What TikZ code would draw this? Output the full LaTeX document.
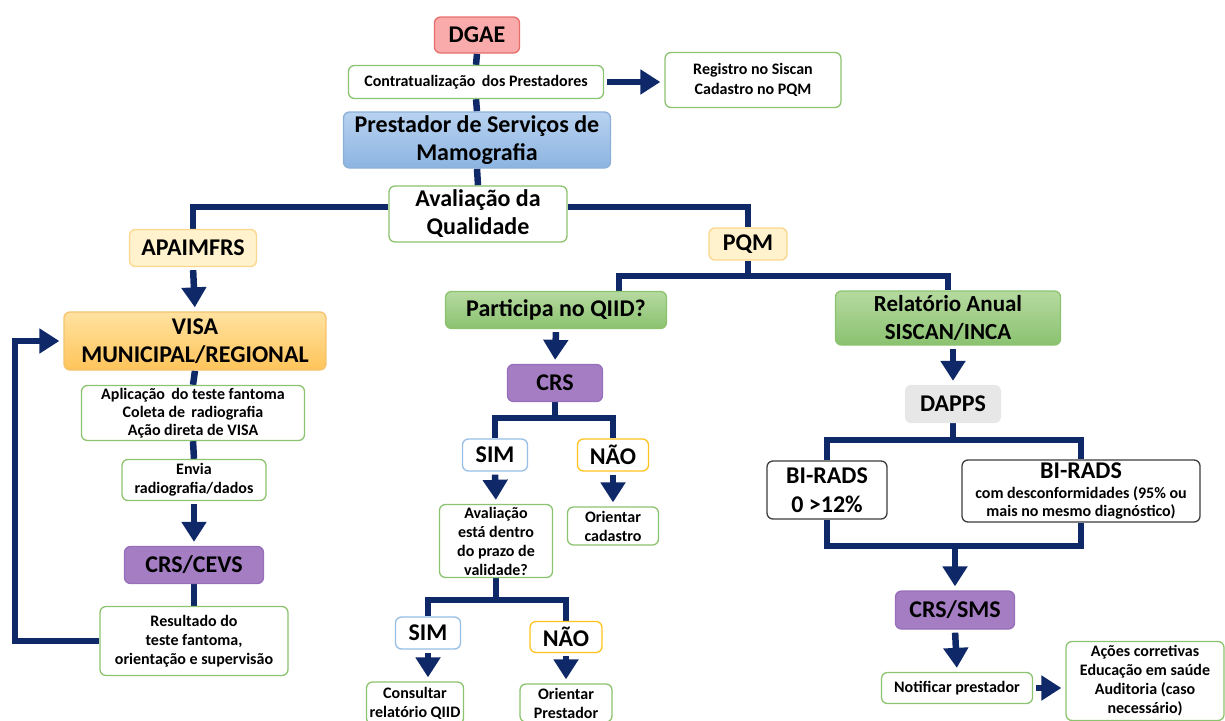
\documentclass[tikz,border=0pt]{standalone}
\usepackage{fontspec}
\setmainfont{Carlito}
\usetikzlibrary{arrows.meta,calc,backgrounds}
\definecolor{navy}{RGB}{14,40,104}
\definecolor{gborder}{RGB}{140,195,110}
\definecolor{pinkfill}{RGB}{249,170,170}
\definecolor{pinkborder}{RGB}{232,110,110}
\definecolor{bluetop}{RGB}{184,210,240}
\definecolor{bluebot}{RGB}{140,180,225}
\definecolor{blueborder}{RGB}{140,175,215}
\definecolor{yelfill}{RGB}{255,242,204}
\definecolor{yelborder}{RGB}{250,215,140}
\definecolor{orgtop}{RGB}{255,226,160}
\definecolor{orgbot}{RGB}{255,196,90}
\definecolor{orgborder}{RGB}{245,195,110}
\definecolor{purfill}{RGB}{165,125,195}
\definecolor{purborder}{RGB}{150,110,185}
\definecolor{grtop}{RGB}{182,218,160}
\definecolor{grbot}{RGB}{138,194,112}
\definecolor{grayfill}{RGB}{231,231,231}
\definecolor{simborder}{RGB}{150,190,230}
\definecolor{naoborder}{RGB}{255,195,30}
\definecolor{darkborder}{RGB}{60,60,60}
\tikzset{
  box/.style={rounded corners=6pt, draw, line width=1.3pt, align=center, inner sep=0pt, text=black},
  gbox/.style={box, draw=gborder, fill=white},
  pinkbox/.style={box, draw=pinkborder, fill=pinkfill},
  bluebox/.style={box, draw=blueborder, top color=bluetop, bottom color=bluebot},
  yelbox/.style={box, draw=yelborder, fill=yelfill},
  orgbox/.style={box, draw=orgborder, top color=orgtop, bottom color=orgbot},
  purbox/.style={box, draw=purborder, fill=purfill},
  grbox/.style={box, draw=gborder, top color=grtop, bottom color=grbot},
  graybox/.style={box, draw=grayfill, fill=grayfill},
  simbox/.style={box, draw=simborder, fill=white},
  naobox/.style={box, draw=naoborder, fill=white},
  darkbox/.style={box, draw=darkborder, fill=white},
  conn/.style={draw=navy, line width=6.5pt},
  arr/.style={conn, -{Triangle[width=24pt,length=20pt]}, shorten <=3pt, shorten >=4pt},
}
\newcommand\fsz[2]{\fontsize{#1}{#2}\selectfont\bfseries}
\begin{document}
\begin{tikzpicture}[x=1pt,y=-1pt]
\useasboundingbox (0,0) rectangle (1225,720);
% nodes
\node[pinkbox, minimum width=85, minimum height=36, font=\fsz{24}{28}] (dgae) at (477,35) {DGAE};
\node[gbox, minimum width=255, minimum height=33, font=\fsz{16}{19}] (contr) at (476,82) {Contratualização\, dos Prestadores};
\node[gbox, minimum width=176, minimum height=55, font=\fsz{16}{20}] (reg) at (753,80) {Registro no Siscan\\Cadastro no PQM};
\node[bluebox, minimum width=267, minimum height=56, font=\fsz{24}{28}] (prest) at (477,140) {Prestador de Serviços de\\Mamografia};
\node[gbox, minimum width=178, minimum height=56, font=\fsz{24}{28}] (aval) at (478,214) {Avaliação da\\Qualidade};
\node[yelbox, minimum width=127, minimum height=37, font=\fsz{24}{28}] (apaim) at (193,248) {APAIMFRS};
\node[orgbox, minimum width=262, minimum height=58, font=\fsz{24}{28}] (visa) at (195,341) {VISA\\MUNICIPAL/REGIONAL};
\node[gbox, minimum width=223, minimum height=55, font=\fsz{16}{18}] (apl) at (193,413) {Aplicação\, do teste fantoma\\Coleta de\, radiografia\\Ação direta de VISA};
\node[gbox, minimum width=144, minimum height=41, font=\fsz{16}{19}] (envia) at (194,480) {Envia\\radiografia/dados};
\node[purbox, minimum width=139, minimum height=37, font=\fsz{24}{28}] (cevs) at (194,565) {CRS/CEVS};
\node[gbox, minimum width=188, minimum height=69, font=\fsz{16}{19}] (res) at (194,641) {Resultado do\\teste fantoma,\\orientação e supervisão};
\node[yelbox, minimum width=78, minimum height=32, font=\fsz{24}{28}] (pqm) at (748,244) {PQM};
\node[grbox, minimum width=221, minimum height=37, font=\fsz{24}{28}] (part) at (556,310) {Participa no QIID?};
\node[grbox, minimum width=225, minimum height=54, font=\fsz{23}{28}] (rel) at (948,318) {Relatório Anual\\SISCAN/INCA};
\node[purbox, minimum width=95, minimum height=37, font=\fsz{24}{28}] (crs) at (555,383) {CRS};
\node[simbox, minimum width=65, minimum height=32, font=\fsz{24}{28}] (sim1) at (495,455) {SIM};
\node[naobox, minimum width=71, minimum height=32, font=\fsz{24}{28}] (nao1) at (613,455) {NÃO};
\node[gbox, minimum width=113, minimum height=73, font=\fsz{16}{19}] (aval2) at (496,541) {Avaliação\\está dentro\\do prazo de\\validade?};
\node[gbox, minimum width=91, minimum height=38, font=\fsz{16}{19}] (oricad) at (613,526) {Orientar\\cadastro};
\node[simbox, minimum width=65, minimum height=32, font=\fsz{24}{28}] (sim2) at (428,633) {SIM};
\node[naobox, minimum width=72, minimum height=31, font=\fsz{24}{28}] (nao2) at (566,637) {NÃO};
\node[gbox, minimum width=97, minimum height=42, font=\fsz{16}{19}] (cons) at (415,703) {Consultar\\relatório QIID};
\node[gbox, minimum width=92, minimum height=38, font=\fsz{16}{19}] (oripr) at (566,703) {Orientar\\Prestador};
\node[graybox, minimum width=95, minimum height=37, font=\fsz{24}{28}] (dapps) at (953,404) {DAPPS};
\node[darkbox, minimum width=120, minimum height=58, font=\fsz{24}{29}] (bi1) at (827,490) {BI-RADS\\0 >12\%};
\node[darkbox, minimum width=238, minimum height=62, font=\fsz{16}{18}] (bi2) at (1081,491) {{\fsz{24}{24}BI-RADS}\\[2pt]com desconformidades (95\% ou\\mais no mesmo diagnóstico)};
\node[purbox, minimum width=119, minimum height=38, font=\fsz{24}{28}] (crssms) at (955,610) {CRS/SMS};
\node[gbox, minimum width=151, minimum height=31, font=\fsz{16}{19}] (notif) at (957,688) {Notificar prestador};
\node[gbox, minimum width=158, minimum height=79, font=\fsz{16}{19}] (acoes) at (1145,681) {Ações corretivas\\Educação em saúde\\Auditoria (caso\\necessário)};
% connectors
\begin{pgfonlayer}{background}
\draw[conn] (dgae.south) -- (contr.north);
\draw[conn] (contr.south) -- (prest.north);
\draw[conn] (prest.south) -- (aval.north);
\draw[arr] (contr.east) -- (contr.east -| reg.west);
\draw[conn] ([yshift=7pt]aval.west) -| (apaim.north);
\draw[conn] ([yshift=7pt]aval.east) -| (pqm.north);
\draw[arr] (apaim.south) -- (visa.north);
\draw[conn] (visa.south) -- (apl.north);
\draw[conn] (apl.south) -- (envia.north);
\draw[arr] (envia.south) -- (cevs.north);
\draw[conn] (cevs.south) -- (res.north);
\coordinate (fb) at (15,641);
\draw[arr, shorten <=0pt] (res.west) -- (fb) |- (visa.west);
\coordinate (pj) at (748,276);
\draw[conn] (pqm.south) -- (pj);
\draw[conn] ([xshift=63pt]part.north) |- (pj) -| (rel.north);
\draw[arr] (part.south) -- (crs.north);
\coordinate (cj) at (555,418);
\draw[conn] (crs.south) -- (cj);
\draw[conn] (sim1.north) |- (cj) -| (nao1.north);
\draw[arr] (sim1.south) -- (aval2.north);
\draw[arr] (nao1.south) -- (oricad.north);
\coordinate (aj) at (496,600);
\draw[conn] (aval2.south) -- (aj);
\draw[conn] (sim2.north) |- (aj) -| (nao2.north);
\draw[arr] (sim2.south) -- (sim2.south |- cons.north);
\draw[arr] (nao2.south) -- (oripr.north);
\draw[arr] (dapps.north |- rel.south) -- (dapps.north);
\coordinate (dj) at (955,440);
\draw[conn] (dapps.south) -- (dapps.south |- dj);
\draw[conn] (bi1.north) |- (dj) -| (bi2.north);
\coordinate (mj) at (955,546);
\draw[conn] (bi1.south) |- (mj) -| (bi2.south);
\draw[arr, shorten <=0pt] (mj) -- (crssms.north);
\draw[arr] (crssms.south) -- (notif.north);
\draw[arr] (notif.east) -- (notif.east -| acoes.west);
\end{pgfonlayer}
\end{tikzpicture}
\end{document}
